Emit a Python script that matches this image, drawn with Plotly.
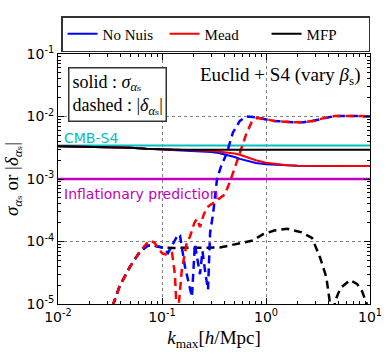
import numpy as np
import plotly.graph_objects as go

# solid curves: sigma_alpha_s vs k_max
k_solid = [0.01, 0.02, 0.03, 0.05, 0.07, 0.1, 0.15, 0.2, 0.25, 0.3, 0.35, 0.42,
           0.5, 0.56, 0.65, 0.8, 1.0, 1.3, 1.6, 2.0, 3.0, 5.0, 10.0]
sig_nonuis = [3.35e-3, 3.3e-3, 3.25e-3, 3.15e-3, 3.05e-3, 2.97e-3, 2.9e-3, 2.85e-3, 2.78e-3,
              2.7e-3, 2.6e-3, 2.45e-3, 2.25e-3, 2.1e-3, 1.95e-3, 1.8e-3, 1.72e-3, 1.67e-3,
              1.64e-3, 1.63e-3, 1.62e-3, 1.62e-3, 1.62e-3]
sig_mead = [3.35e-3, 3.3e-3, 3.25e-3, 3.15e-3, 3.05e-3, 2.97e-3, 2.92e-3, 2.88e-3, 2.85e-3,
            2.82e-3, 2.75e-3, 2.65e-3, 2.55e-3, 2.45e-3, 2.25e-3, 2.0e-3, 1.82e-3, 1.72e-3,
            1.66e-3, 1.63e-3, 1.62e-3, 1.62e-3, 1.62e-3]
sig_mfp = [3.35e-3, 3.3e-3, 3.25e-3, 3.15e-3, 3.05e-3, 2.98e-3, 2.95e-3, 2.95e-3, 2.95e-3,
           2.95e-3, 2.95e-3, 2.95e-3, 2.95e-3, 2.95e-3, 2.95e-3, 2.95e-3, 2.95e-3, 2.95e-3,
           2.95e-3, 2.95e-3, 2.95e-3, 2.95e-3, 2.95e-3]

# dashed curves: |delta_alpha_s| vs k_max
k_nonuis = [0.03, 0.034, 0.039, 0.049, 0.061, 0.072, 0.08, 0.09, 0.102, 0.114, 0.13, 0.143,
            0.149, 0.166, 0.194, 0.207, 0.232, 0.245, 0.262, 0.277, 0.29, 0.31, 0.338, 0.37,
            0.42, 0.48, 0.56, 0.65, 0.75, 0.93, 1.2, 1.8, 2.3, 2.8, 3.7, 4.6, 7.5, 10.0]
del_nonuis = [6e-6, 1.0e-5, 1.9e-5, 3.9e-5, 6.8e-5, 8.5e-5, 8.7e-5, 8.3e-5, 8.0e-5, 6.5e-5,
              1.0e-4, 1.3e-4, 1.25e-4, 4e-5, 1.3e-5, 9e-5, 3e-5, 7e-5, 3e-5, 1.7e-5, 1.37e-4,
              2.8e-4, 1.0e-3, 1.6e-3, 2.6e-3, 5.5e-3, 8.5e-3, 1.0e-2, 9.8e-3, 9.1e-3, 8.5e-3,
              8.1e-3, 8.1e-3, 8.5e-3, 9.5e-3, 1.02e-2, 1.02e-2, 1.0e-2]

k_mead = [0.03, 0.034, 0.039, 0.049, 0.061, 0.072, 0.077, 0.085, 0.1, 0.114, 0.125, 0.133,
          0.14, 0.155, 0.174, 0.186, 0.205, 0.217, 0.232, 0.25, 0.27, 0.32, 0.4, 0.45, 0.5,
          0.56, 0.65, 0.73, 0.82, 0.93, 1.2, 1.8, 2.3, 2.8, 3.7, 4.6, 7.5, 10.0]
del_mead = [6e-6, 1.0e-5, 1.9e-5, 3.9e-5, 6.8e-5, 9.5e-5, 1.04e-4, 9.5e-5, 6.5e-5, 6e-5,
            6.5e-5, 3e-5, 5e-6, 3.5e-5, 1.0e-4, 1.2e-4, 2e-4, 2.3e-4, 1.7e-4, 2.6e-4, 3.5e-4,
            4.3e-4, 5.6e-4, 9e-4, 1.55e-3, 2.6e-3, 5.4e-3, 8.2e-3, 9.5e-3, 9.3e-3, 8.5e-3,
            8.1e-3, 8.1e-3, 8.5e-3, 9.5e-3, 1.02e-2, 1.02e-2, 1.0e-2]

k_mfp = [0.03, 0.034, 0.039, 0.049, 0.061, 0.072, 0.08, 0.09, 0.1, 0.13, 0.2, 0.3, 0.36,
         0.5, 0.75, 0.93, 1.2, 1.6, 2.2, 2.77, 3.3, 3.8, 4.1, 4.35, 4.6, 5.2, 6.4, 7.5, 8.4,
         9.3, 10.0]
del_mfp = [6e-6, 1.0e-5, 1.9e-5, 3.9e-5, 6.8e-5, 8.5e-5, 8.8e-5, 8.3e-5, 8.0e-5, 7.9e-5,
           7.9e-5, 7.9e-5, 8.0e-5, 9.0e-5, 1.04e-4, 1.3e-4, 1.5e-4, 1.6e-4, 1.4e-4, 1.14e-4,
           5.6e-5, 2.7e-5, 1.1e-5, 2e-6, 1.1e-5, 1.8e-5, 2.4e-5, 2.1e-5, 1.6e-5, 1.0e-5, 7e-6]

cmb_s4 = 3.45e-3
inflation = 1.0e-3

x_tickvals = [0.01, 0.1, 1, 10]
x_ticktext = ["10<sup>-2</sup>", "10<sup>-1</sup>", "10<sup>0</sup>", "10<sup>1</sup>"]
y_tickvals = [1e-5, 1e-4, 1e-3, 1e-2, 1e-1]
y_ticktext = ["10<sup>-5</sup>", "10<sup>-4</sup>", "10<sup>-3</sup>", "10<sup>-2</sup>", "10<sup>-1</sup>"]

BLUE, RED, BLACK = "#0000ff", "#ff0000", "#000000"
CYAN, MAGENTA = "#00bfbf", "#bf00bf"
SERIF = "Liberation Serif, DejaVu Serif, serif"
SANS = "DejaVu Sans, sans-serif"

fig = go.Figure()

# horizontal reference lines
fig.add_trace(go.Scatter(x=[0.01, 10], y=[cmb_s4, cmb_s4], mode="lines",
                         line=dict(color=CYAN, width=2), showlegend=False, hoverinfo="skip"))
fig.add_trace(go.Scatter(x=[0.01, 10], y=[inflation, inflation], mode="lines",
                         line=dict(color=MAGENTA, width=2.5), showlegend=False, hoverinfo="skip"))

# dashed
for kk, vv, c in [(k_mfp, del_mfp, BLACK), (k_nonuis, del_nonuis, BLUE), (k_mead, del_mead, RED)]:
    fig.add_trace(go.Scatter(x=kk, y=vv, mode="lines", showlegend=False,
                             line=dict(color=c, width=2.5, dash="8px,5px")))

# solid
for name, vv, c in [("No Nuis", sig_nonuis, BLUE), ("Mead", sig_mead, RED), ("MFP", sig_mfp, BLACK)]:
    fig.add_trace(go.Scatter(x=k_solid, y=vv, mode="lines", name=name,
                             line=dict(color=c, width=2)))

minor_x = [m * 10.0 ** e for e in range(-2, 1) for m in range(2, 10)]
minor_y = [m * 10.0 ** e for e in range(-5, -1) for m in range(2, 10)]

axis_common = dict(
    type="log", showline=True, linecolor="black", linewidth=1, mirror="allticks",
    ticks="inside", ticklen=6, tickcolor="black", showgrid=True, gridcolor="#808080",
    griddash="dot", gridwidth=1, zeroline=False, automargin=False,
    tickfont=dict(family=SANS, size=14, color="black"),
)

fig.update_xaxes(
    **axis_common, range=[-2, 1], tickvals=x_tickvals, ticktext=x_ticktext,
    minor=dict(tickvals=minor_x, ticks="inside", ticklen=3, tickcolor="black", showgrid=False),
    title=dict(text="<i>k</i><sub>max</sub>[<i>h</i>/Mpc]", font=dict(family=SERIF, size=19, color="black"),
               standoff=6),
)
fig.update_yaxes(
    **axis_common, range=[-5, -1], tickvals=y_tickvals, ticktext=y_ticktext,
    minor=dict(tickvals=minor_y, ticks="inside", ticklen=3, tickcolor="black", showgrid=False),
    title=dict(text="<i>σ</i><sub><i>α</i>ₛ</sub> or |<i>δ</i><sub><i>α</i>ₛ</sub>|",
               font=dict(family=SERIF, size=19, color="black"), standoff=2),
)

fig.add_annotation(x=0.032, y=0.95, xref="paper", yref="paper", xanchor="left", yanchor="top",
                   text="solid : <i>σ</i><sub><i>α</i>ₛ</sub><br>dashed : |<i>δ</i><sub><i>α</i>ₛ</sub>|",
                   showarrow=False, align="left", font=dict(family=SERIF, size=18, color="black"),
                   bordercolor="#333333", borderwidth=1.5, borderpad=3, bgcolor="white")
fig.add_annotation(x=0.975, y=0.97, xref="paper", yref="paper", xanchor="right", yanchor="top",
                   text="Euclid + S4 (vary <i>β</i><sub>s</sub>)", showarrow=False,
                   font=dict(family=SERIF, size=19, color="black"))
fig.add_annotation(x=0.012, y=np.log10(cmb_s4), xref="paper", yref="y", xanchor="left", yanchor="bottom",
                   text="CMB-S4", showarrow=False, font=dict(family=SANS, size=14, color=CYAN), yshift=-3)
fig.add_annotation(x=0.012, y=np.log10(inflation), xref="paper", yref="y", xanchor="left", yanchor="top",
                   text="Inflationary prediction", showarrow=False,
                   font=dict(family=SANS, size=14, color=MAGENTA), yshift=-5)

fig.update_layout(
    width=390, height=358,
    margin=dict(l=58, r=20, t=54, b=54, autoexpand=False),
    paper_bgcolor="white", plot_bgcolor="white",
    legend=dict(orientation="h", x=0.505, y=1.08, xanchor="center", yanchor="middle",
                bordercolor="#333333", borderwidth=1.5, bgcolor="white",
                font=dict(family=SERIF, size=15, color="black"),
                entrywidth=57, entrywidthmode="pixels", itemwidth=30),
)

fig.write_html("out.html", config={"displayModeBar": False},
               post_script="document.body.style.margin='0';")
